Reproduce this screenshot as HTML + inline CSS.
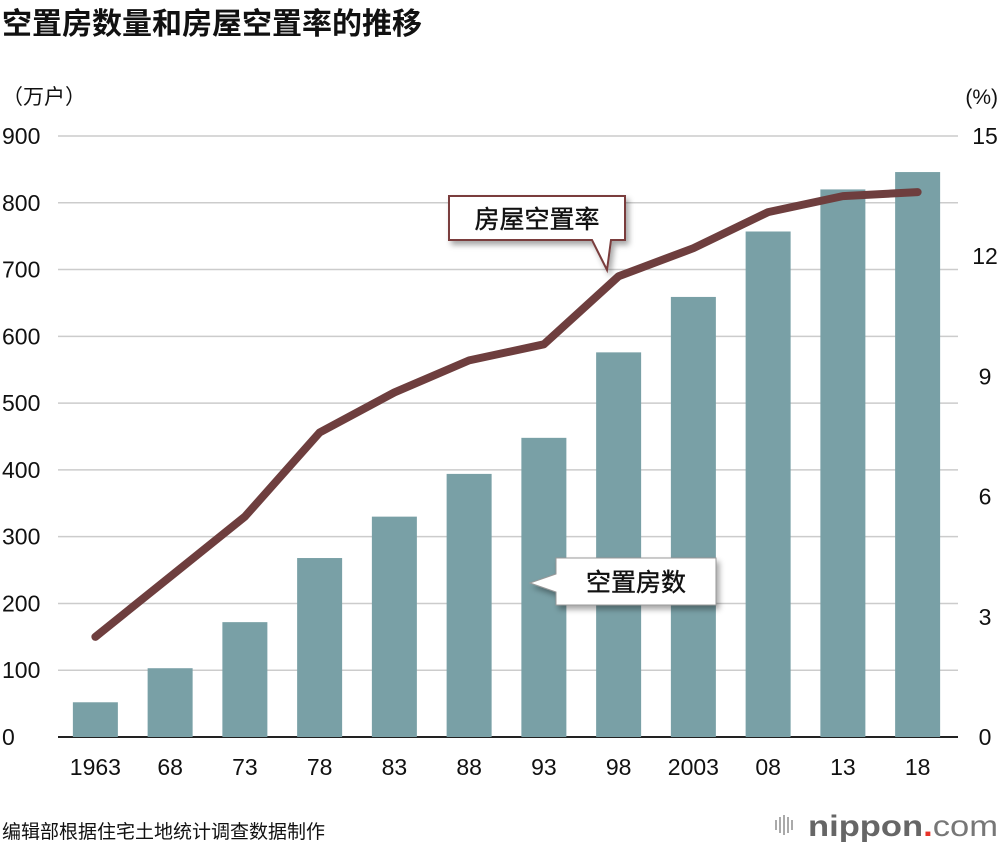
<!DOCTYPE html>
<html><head><meta charset="utf-8"><style>
body{margin:0;background:#fff;font-family:"Liberation Sans","Noto Sans CJK SC",sans-serif}
svg text{font-family:"Liberation Sans","Noto Sans CJK SC",sans-serif}
</style></head><body>
<svg id="c" width="1000" height="850" xmlns="http://www.w3.org/2000/svg">
<defs><filter id="sh" x="-20%" y="-20%" width="150%" height="160%"><feDropShadow dx="3" dy="4" stdDeviation="3" flood-color="#000" flood-opacity="0.35"/></filter></defs>
<text x="2" y="34" font-size="30" font-weight="bold" fill="#111">空置房数量和房屋空置率的推移</text>
<text x="2" y="104" font-size="21" fill="#111">（万户）</text>
<text x="998" y="104" font-size="21" fill="#111" text-anchor="end">(%)</text>
<g id="grid"></g><g id="bars"></g><g id="line"></g><g id="axes"></g>
<g filter="url(#sh)">
<path d="M449,196 H625 V240 H611 L607,270 L592,240 H449 Z" fill="#fff" stroke="#7a3d3d" stroke-width="2"/>
</g>
<text x="537" y="228" font-size="25" text-anchor="middle" fill="#111" stroke="#111" stroke-width="0.4">房屋空置率</text>
<g filter="url(#sh)">
<path d="M556,558 H716 V605 H556 V592 L530,583 L556,574 Z" fill="#fff" stroke="#999" stroke-width="1"/>
</g>
<text x="636" y="591" font-size="25" text-anchor="middle" fill="#111" stroke="#111" stroke-width="0.4">空置房数</text>
<text x="2" y="838" font-size="19" fill="#111">编辑部根据住宅土地统计调查数据制作</text>
<g>
<g fill="#aaa"><rect x="775" y="820" width="2" height="10"/><rect x="779" y="817" width="2" height="16"/><rect x="783" y="815" width="2" height="20"/><rect x="787" y="817" width="2" height="16"/><rect x="791" y="820" width="2" height="10"/></g>
<text x="808" y="836" font-size="30" fill="#666" font-weight="bold" textLength="190" lengthAdjust="spacingAndGlyphs">nippon<tspan fill="#e8332a">.</tspan><tspan font-weight="normal" fill="#777">com</tspan></text>
</g>
</svg>
<script>
const categories=["1963","68","73","78","83","88","93","98","2003","08","13","18"];
const vacantHouses=[52,103,172,268,330,394,448,576,659,757,820,846];
const vacancyRate=[2.5,4.0,5.5,7.6,8.6,9.4,9.8,11.5,12.2,13.1,13.5,13.6];
const leftTicks=[0,100,200,300,400,500,600,700,800,900];
const rightTicks=[0,3,6,9,12,15];
const NS="http://www.w3.org/2000/svg";
const x0=58,x1=955,yb=737,yt=136;
const yL=v=>yb-(v/900)*(yb-yt);
const yR=v=>yb-(v/15)*(yb-yt);
const step=(x1-x0)/categories.length;
const xC=i=>x0+step*(i+0.5);
function mk(t,a,p){const e=document.createElementNS(NS,t);for(const k in a)e.setAttribute(k,a[k]);p.appendChild(e);return e;}
const grid=document.getElementById('grid'),axes=document.getElementById('axes');
leftTicks.forEach(v=>{
 const l=mk('line',{x1:x0,x2:958,y1:yL(v),y2:yL(v),stroke:v===0?'#222':'#ccc','stroke-width':v===0?2:1.5},grid);
 
 
 const t=mk('text',{x:2,y:yL(v)+8,'font-size':23,fill:'#111'},axes);t.textContent=v;
 
 
});
rightTicks.forEach(v=>{
 const t=mk('text',{x:985,y:yR(v)+8,'font-size':23,fill:'#111','text-anchor':'middle'},axes);t.textContent=v;
 
 
});
const bars=document.getElementById('bars');
categories.forEach((c,i)=>{
 const r=mk('rect',{x:xC(i)-22.5,y:yL(vacantHouses[i]),width:45,height:yb-yL(vacantHouses[i]),fill:'#79a0a6'},bars);
 
 
 const t=mk('text',{x:xC(i),y:775,'font-size':23,fill:'#111','text-anchor':'middle'},axes);t.textContent=c;
 
 
});
const lg=document.getElementById('line');
const pts=vacancyRate.map((v,i)=>xC(i)+','+yR(v)).join(' ');
const pl=mk('polyline',{points:pts,fill:'none',stroke:'#6e3e3e','stroke-width':8,'stroke-linejoin':'round','stroke-linecap':'round'},lg);


</script>
</body></html>
